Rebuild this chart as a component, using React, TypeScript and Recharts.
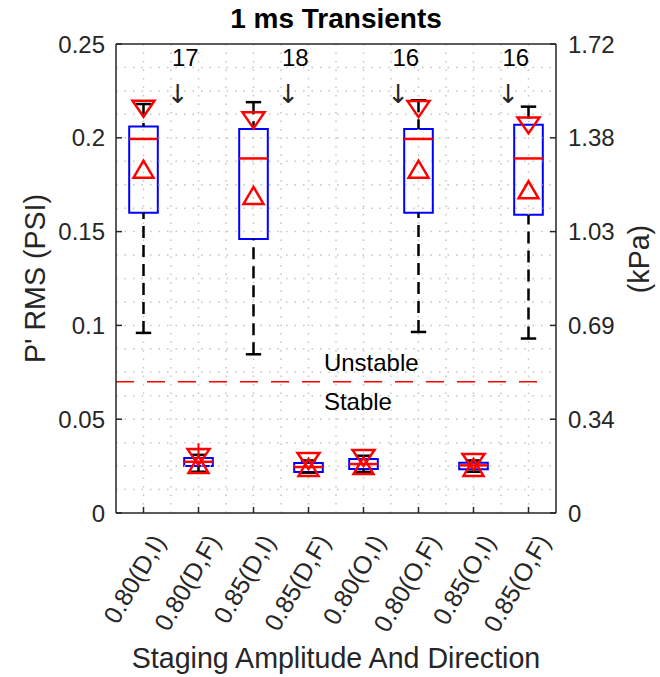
import { Fragment } from 'react'
import { ComposedChart, XAxis, YAxis, Scatter, ReferenceLine, ReferenceArea } from 'recharts'

const CATEGORIES = ['0.80(D,I)', '0.80(D,F)', '0.85(D,I)', '0.85(D,F)', '0.80(O,I)', '0.80(O,F)', '0.85(O,I)', '0.85(O,F)']

// box statistics, P' RMS in PSI
const Q1 = [0.16, 0.025, 0.146, 0.0219, 0.0235, 0.16, 0.0233, 0.159]
const MEDIAN = [0.1994, 0.0273, 0.189, 0.0245, 0.0261, 0.1994, 0.0254, 0.189]
const Q3 = [0.206, 0.0293, 0.2047, 0.0267, 0.0288, 0.2047, 0.0268, 0.207]
const WHISKER_LO = [0.096, 0.022, 0.0846, 0.0215, 0.0219, 0.0965, 0.022, 0.093]
const WHISKER_HI = [0.218, 0.031, 0.219, 0.028, 0.0305, 0.22, 0.028, 0.2166]
const UP_MARK = [0.183, 0.0256, 0.169, 0.024, 0.025, 0.183, 0.024, 0.172]
const DOWN_MARK = [0.2155, 0.0298, 0.2093, 0.0277, 0.0293, 0.2153, 0.0272, 0.2066]
const OUTLIERS = [{ x: 2, y: 0.034 }]

const THRESHOLD = 0.07
const COUNT_LABELS = ['17', '18', '16', '16']
const COUNT_X = [1.76, 3.76, 5.77, 7.77]
const COUNT_Y = 0.2425
const ARROW_X = [1.62, 3.63, 5.63, 7.63]
const ARROW_Y = 0.2233

const PSI_TO_KPA = 6.894757
const PSI_TICKS = [0, 0.05, 0.1, 0.15, 0.2, 0.25]
const KPA_TICKS = PSI_TICKS.map((v) => v * PSI_TO_KPA)
const X_TICKS = [1, 2, 3, 4, 5, 6, 7, 8]
const GRID_Y = Array.from({ length: 19 }, (_, i) => (i + 1) * 0.0125)
const GRID_X = Array.from({ length: 15 }, (_, i) => 1 + i * 0.5)

const AXIS = '#262626'
const FONT = 'Liberation Sans, Arial, sans-serif'
const BOX_HALF = 0.26
const CAP_HALF = 0.14

const upData = UP_MARK.map((y, i) => ({ x: i + 1, y }))
const downData = DOWN_MARK.map((y, i) => ({ x: i + 1, y }))
const notes = [
  ...COUNT_LABELS.map((t, i) => ({ x: COUNT_X[i], y: COUNT_Y, text: t, anchor: 'middle', arrow: false })),
  ...ARROW_X.map((x) => ({ x, y: ARROW_Y, text: '\u2193\uFE0E', anchor: 'middle', arrow: true })),
  { x: 4.28, y: 0.08, text: 'Unstable', anchor: 'start', arrow: false },
  { x: 4.28, y: 0.0593, text: 'Stable', anchor: 'start', arrow: false },
]

const TriUp = (p: any) => (
  <polygon
    points={`${p.cx - 10},${p.cy + 8} ${p.cx + 10},${p.cy + 8} ${p.cx},${p.cy - 9}`}
    fill="none"
    stroke="#ff0000"
    strokeWidth={2.5}
  />
)
const TriDown = (p: any) => (
  <polygon
    points={`${p.cx - 11},${p.cy - 8} ${p.cx + 11},${p.cy - 8} ${p.cx},${p.cy + 8}`}
    fill="none"
    stroke="#ff0000"
    strokeWidth={2.5}
  />
)
const Plus = (p: any) => (
  <path d={`M${p.cx - 6},${p.cy}H${p.cx + 6}M${p.cx},${p.cy - 6}V${p.cy + 6}`} stroke="#ff0000" strokeWidth={2} />
)
const Note = (p: any) => (
  <text
    x={p.cx}
    y={p.cy}
    dy="0.35em"
    textAnchor={p.payload.anchor}
    fontSize={p.payload.arrow ? 26 : 24}
    fill={p.payload.arrow ? AXIS : '#000'}
    fontFamily={p.payload.arrow ? 'DejaVu Sans' : FONT}
  >
    {p.payload.text}
  </text>
)

function XTick({ x, y, payload }: any) {
  const tx = x + 15
  const ty = y + 30
  return (
    <text
      x={tx}
      y={ty}
      transform={`rotate(-60 ${tx} ${ty})`}
      textAnchor="end"
      dy="0.35em"
      fontSize={25}
      fill={AXIS}
      fontFamily={FONT}
    >
      {CATEGORIES[payload.value - 1]}
    </text>
  )
}

function XTitle({ viewBox }: any) {
  return (
    <text x={viewBox.x + viewBox.width / 2} y={viewBox.y + 155} textAnchor="middle" fontSize={28.6} fill={AXIS}>
      Staging Amplitude And Direction
    </text>
  )
}

function Title({ viewBox }: any) {
  return (
    <text
      x={viewBox.x + viewBox.width / 2}
      y={viewBox.y - 15}
      textAnchor="middle"
      fontSize={28}
      fontWeight="bold"
      fill="#000"
    >
      1 ms Transients
    </text>
  )
}

function LeftTitle({ viewBox }: any) {
  const cx = viewBox.x + 35
  const cy = viewBox.y + viewBox.height / 2
  return (
    <text x={cx} y={cy} dy="0.35em" transform={`rotate(-90 ${cx} ${cy})`} textAnchor="middle" fontSize={28.6} fill={AXIS}>
      P' RMS (PSI)
    </text>
  )
}

function RightTitle({ viewBox }: any) {
  const cx = viewBox.x + 83
  const cy = viewBox.y + 215
  return (
    <text x={cx} y={cy} dy="0.35em" transform={`rotate(-90 ${cx} ${cy})`} textAnchor="middle" fontSize={28.6} fill={AXIS}>
      (kPa)
    </text>
  )
}

export default function App() {
  return (
    <div style={{ position: 'absolute', left: 0, top: 0, background: '#fff' }}>
      <ComposedChart width={660} height={677} margin={{ top: 43, right: 0, bottom: 0, left: 0 }} style={{ fontFamily: FONT }}>
        <XAxis
          dataKey="x"
          type="number"
          domain={[0.5, 8.5]}
          ticks={X_TICKS}
          height={164}
          tickSize={-6}
          tickMargin={0}
          tick={<XTick />}
          axisLine={{ stroke: AXIS, strokeWidth: 1.5 }}
          tickLine={{ stroke: AXIS, strokeWidth: 1.5 }}
          label={<XTitle />}
          allowDataOverflow
        />
        <XAxis
          xAxisId="top"
          orientation="top"
          dataKey="x"
          type="number"
          domain={[0.5, 8.5]}
          ticks={X_TICKS}
          height={1}
          tickSize={-6}
          tick={false}
          axisLine={{ stroke: AXIS, strokeWidth: 1.5 }}
          tickLine={{ stroke: AXIS, strokeWidth: 1.5 }}
          label={<Title />}
          allowDataOverflow
        />
        <YAxis
          dataKey="y"
          type="number"
          domain={[0, 0.25]}
          ticks={PSI_TICKS}
          width={116}
          tickSize={-6}
          tickMargin={17}
          tick={{ fontSize: 24, fill: AXIS }}
          tickFormatter={(v: number) => String(v)}
          axisLine={{ stroke: AXIS, strokeWidth: 1.5 }}
          tickLine={{ stroke: AXIS, strokeWidth: 1.5 }}
          label={<LeftTitle />}
          allowDataOverflow
        />
        <YAxis
          yAxisId="kpa"
          orientation="right"
          type="number"
          domain={[0, 0.25 * PSI_TO_KPA]}
          ticks={KPA_TICKS}
          width={104}
          tickSize={-6}
          tickMargin={18}
          tick={{ fontSize: 24, fill: AXIS }}
          tickFormatter={(v: number) => (v === 0 ? '0' : v.toFixed(2))}
          axisLine={{ stroke: AXIS, strokeWidth: 1.5 }}
          tickLine={{ stroke: AXIS, strokeWidth: 1.5 }}
          label={<RightTitle />}
          allowDataOverflow
        />

        {GRID_Y.map((y) => (
          <ReferenceLine key={'gy' + y} y={y} stroke="#c4c4c4" strokeWidth={1.5} strokeDasharray="1.5 7" />
        ))}
        {GRID_X.map((x) => (
          <ReferenceLine key={'gx' + x} x={x} stroke="#c4c4c4" strokeWidth={1.5} strokeDasharray="1.5 7" />
        ))}

        <ReferenceLine
          segment={[
            { x: 0.5, y: THRESHOLD },
            { x: 8.3, y: THRESHOLD },
          ]}
          stroke="#ff0000"
          strokeWidth={1.5}
          strokeDasharray="18 13"
        />

        {CATEGORIES.map((c, i) => {
          const x = i + 1
          return (
            <Fragment key={c}>
              <ReferenceLine
                segment={[
                  { x, y: WHISKER_LO[i] },
                  { x, y: Q1[i] },
                ]}
                stroke="#000"
                strokeWidth={2.5}
                strokeDasharray="12 7"
              />
              <ReferenceLine
                segment={[
                  { x, y: WHISKER_HI[i] },
                  { x, y: Q3[i] },
                ]}
                stroke="#000"
                strokeWidth={2.5}
                strokeDasharray="12 7"
              />
              <ReferenceLine
                segment={[
                  { x: x - CAP_HALF, y: WHISKER_LO[i] },
                  { x: x + CAP_HALF, y: WHISKER_LO[i] },
                ]}
                stroke="#000"
                strokeWidth={2.5}
              />
              <ReferenceLine
                segment={[
                  { x: x - CAP_HALF, y: WHISKER_HI[i] },
                  { x: x + CAP_HALF, y: WHISKER_HI[i] },
                ]}
                stroke="#000"
                strokeWidth={2.5}
              />
              <ReferenceArea
                x1={x - BOX_HALF}
                x2={x + BOX_HALF}
                y1={Q1[i]}
                y2={Q3[i]}
                fill="none"
                fillOpacity={0}
                stroke="#0000ff"
                strokeWidth={2}
              />
              <ReferenceLine
                segment={[
                  { x: x - BOX_HALF, y: MEDIAN[i] },
                  { x: x + BOX_HALF, y: MEDIAN[i] },
                ]}
                stroke="#ff0000"
                strokeWidth={2.5}
              />
            </Fragment>
          )
        })}

        <Scatter data={upData} shape={TriUp} isAnimationActive={false} />
        <Scatter data={downData} shape={TriDown} isAnimationActive={false} />
        <Scatter data={OUTLIERS} shape={Plus} isAnimationActive={false} />
        <Scatter data={notes} shape={Note} isAnimationActive={false} />
      </ComposedChart>
    </div>
  )
}
